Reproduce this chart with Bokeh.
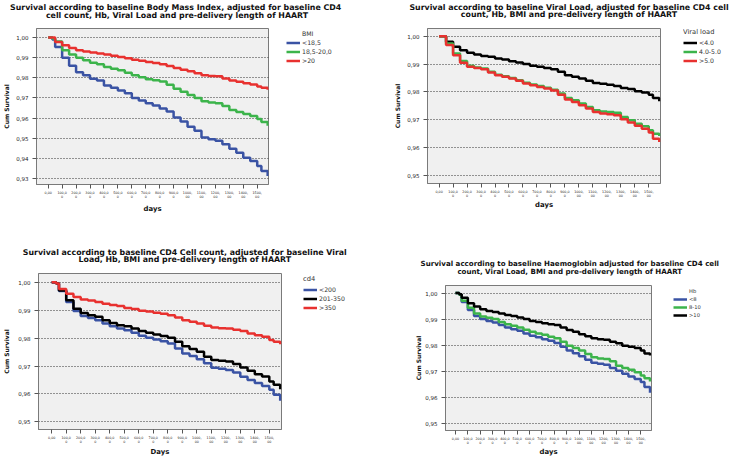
from bokeh.plotting import figure
from bokeh.layouts import column, row
from bokeh.models import Range1d, FixedTicker, Legend, LegendItem
from bokeh.core.properties import value
from bokeh.embed import file_html
from bokeh.resources import INLINE

# ---------------- data ----------------
DAYS = [0, 30, 50, 100, 150, 200, 250, 300, 350, 400, 450, 500, 550, 600, 650, 700,
        750, 800, 850, 900, 950, 1000, 1050, 1100, 1150, 1200, 1250, 1300, 1350, 1400,
        1450, 1500, 1530, 1575]

X_TICKS = [0, 100, 200, 300, 400, 500, 600, 700, 800, 900, 1000, 1100, 1200, 1300, 1400, 1500]
X_TICK_LABELS = ["0,00", "100,0\n0", "200,0\n0", "300,0\n0", "400,0\n0", "500,0\n0",
                 "600,0\n0", "700,0\n0", "800,0\n0", "900,0\n0", "1000,\n00", "1100,\n00",
                 "1200,\n00", "1300,\n00", "1400,\n00", "1500,\n00"]

Y_TICKS_BMI = [0.93, 0.94, 0.95, 0.96, 0.97, 0.98, 0.99, 1.0]
Y_TICK_LABELS_BMI = ["0,93", "0,94", "0,95", "0,96", "0,97", "0,98", "0,99", "1,00"]
Y_TICKS = [0.95, 0.96, 0.97, 0.98, 0.99, 1.0]
Y_TICK_LABELS = ["0,95", "0,96", "0,97", "0,98", "0,99", "1,00"]

# BMI panel
TITLE_BMI = ["Survival according to baseline Body Mass Index,  adjusted for baseline CD4",
             "cell count, Hb, Viral Load and pre-delivery length of HAART"]
BMI_LABELS = ["<18,5", "18,5-20,0", ">20"]
BMI_LT_18_5 = [1.0, 0.999, 0.9953, 0.990, 0.986, 0.9828, 0.9812, 0.9795, 0.9787, 0.9762,
               0.975, 0.9737, 0.9723, 0.970, 0.9687, 0.9673, 0.9662, 0.9648, 0.9632, 0.9603,
               0.9583, 0.9557, 0.9537, 0.9503, 0.9495, 0.9487, 0.947, 0.9448, 0.9428, 0.9403,
               0.9387, 0.9362, 0.9337, 0.9312]
BMI_18_5_20 = [1.0, 0.9995, 0.998, 0.9937, 0.9915, 0.990, 0.9887, 0.9875, 0.9867, 0.9853,
               0.9845, 0.9837, 0.9825, 0.9812, 0.9802, 0.9793, 0.9788, 0.9782, 0.9765, 0.9745,
               0.973, 0.9715, 0.970, 0.9683, 0.9677, 0.9673, 0.966, 0.964, 0.963, 0.962,
               0.961, 0.9595, 0.958, 0.9562]
BMI_GT_20 = [1.0, 1.0, 0.9978, 0.9962, 0.9948, 0.9937, 0.9931, 0.9925, 0.992, 0.9915,
             0.9909, 0.9903, 0.9897, 0.989, 0.9884, 0.9878, 0.9873, 0.9867, 0.9858, 0.9848,
             0.984, 0.9832, 0.9822, 0.9812, 0.9809, 0.9807, 0.9797, 0.9787, 0.978, 0.9773,
             0.9766, 0.9757, 0.975, 0.974]

# Viral load panel
TITLE_VL = ["Survival according to baseline Viral Load, adjusted for baseline CD4 cell",
            "count, Hb, BMI and pre-delivery length of HAART"]
VL_LABELS = ["<4.0", "4.0-5.0", ">5.0"]
VL_LT_4 = [1.0, 1.0, 0.998, 0.9962, 0.995, 0.9941, 0.9934, 0.9929, 0.9926, 0.992,
           0.9916, 0.991, 0.9906, 0.99, 0.9894, 0.989, 0.9886, 0.9881, 0.9872, 0.986,
           0.9854, 0.9848, 0.984, 0.9832, 0.9829, 0.9826, 0.9821, 0.9814, 0.981, 0.9802,
           0.9798, 0.979, 0.9778, 0.9766]
VL_4_5 = [1.0, 1.0, 0.9974, 0.9938, 0.9911, 0.9894, 0.9888, 0.9884, 0.9872, 0.9862,
          0.9856, 0.985, 0.9842, 0.9833, 0.9827, 0.9821, 0.9815, 0.9808, 0.9794, 0.9778,
          0.977, 0.9758, 0.9746, 0.9734, 0.973, 0.9728, 0.9725, 0.971, 0.9698, 0.9686,
          0.9677, 0.9662, 0.965, 0.9642]
VL_GT_5 = [1.0, 1.0, 0.9968, 0.9932, 0.9905, 0.989, 0.9886, 0.9881, 0.987, 0.986,
           0.9854, 0.9848, 0.984, 0.983, 0.9824, 0.9818, 0.9812, 0.9805, 0.979, 0.9773,
           0.9764, 0.9752, 0.974, 0.9728, 0.9722, 0.972, 0.9716, 0.9702, 0.969, 0.9678,
           0.9668, 0.9654, 0.9632, 0.962]

# CD4 panel
TITLE_CD4 = ["Survival according to baseline CD4 Cell count, adjusted for baseline Viral",
             "Load, Hb, BMI and pre-delivery length of HAART"]
CD4_LABELS = ["<200", "201-350", ">350"]
CD4_LT_200 = [1.0, 0.9995, 0.9968, 0.9929, 0.9897, 0.9879, 0.9872, 0.9864, 0.9852, 0.9842,
              0.9834, 0.9828, 0.9819, 0.9808, 0.9801, 0.9795, 0.9789, 0.9781, 0.9763, 0.9745,
              0.9736, 0.9724, 0.971, 0.9694, 0.969, 0.9686, 0.9677, 0.9662, 0.965, 0.9639,
              0.9629, 0.9615, 0.9597, 0.9576]
CD4_201_350 = [1.0, 0.9995, 0.997, 0.9935, 0.9905, 0.989, 0.9882, 0.9876, 0.9864, 0.9854,
               0.9846, 0.9842, 0.9834, 0.9825, 0.9819, 0.9813, 0.9807, 0.9801, 0.9787, 0.9771,
               0.9761, 0.9751, 0.9733, 0.9722, 0.9719, 0.9716, 0.9707, 0.9695, 0.9683, 0.9671,
               0.9663, 0.9645, 0.9633, 0.9617]
CD4_GT_350 = [1.0, 0.9995, 0.9976, 0.9959, 0.9947, 0.9938, 0.9934, 0.9929, 0.9923, 0.9918,
              0.9915, 0.9908, 0.9904, 0.9898, 0.9895, 0.9891, 0.9887, 0.9882, 0.9874, 0.9864,
              0.9858, 0.9852, 0.9844, 0.9838, 0.9835, 0.9834, 0.983, 0.9825, 0.9816, 0.981,
              0.9805, 0.9793, 0.9787, 0.9778]

# Haemoglobin panel
TITLE_HB = ["Survival according to baseline Haemoglobin adjusted for baseline CD4 cell",
            "count, Viral Load, BMI and pre-delivery length of HAART"]
HB_LABELS = ["<8", "8-10", ">10"]
HB_LT_8 = [1.0, 0.9993, 0.9966, 0.9935, 0.9912, 0.99, 0.9893, 0.9887, 0.9877, 0.9868,
           0.9861, 0.9855, 0.9845, 0.9836, 0.983, 0.9823, 0.9817, 0.9808, 0.9794, 0.9779,
           0.9769, 0.9757, 0.9744, 0.9732, 0.9728, 0.9725, 0.9712, 0.9702, 0.969, 0.9679,
           0.967, 0.9658, 0.9639, 0.9617]
HB_8_10 = [1.0, 0.9993, 0.997, 0.9944, 0.9921, 0.991, 0.9905, 0.99, 0.9889, 0.988,
           0.9874, 0.9868, 0.9859, 0.9851, 0.9845, 0.984, 0.9832, 0.9826, 0.9813, 0.9798,
           0.9789, 0.9779, 0.9766, 0.9753, 0.9749, 0.9747, 0.9738, 0.9721, 0.9712, 0.9705,
           0.9696, 0.9683, 0.9673, 0.966]
HB_GT_10 = [1.0, 0.9995, 0.9982, 0.9961, 0.9948, 0.9938, 0.9931, 0.9927, 0.9921, 0.9916,
            0.9912, 0.9906, 0.99, 0.9893, 0.9889, 0.9884, 0.988, 0.9877, 0.9868, 0.9858,
            0.9851, 0.9842, 0.9834, 0.9826, 0.9823, 0.9821, 0.9813, 0.9807, 0.9798, 0.9794,
            0.9789, 0.9779, 0.9768, 0.976]

# ---------------- styles / layout ----------------
BLUE = "#3a53a4"
GREEN = "#3cb44b"
RED = "#e8312f"
BLACK = "#000000"
FONT = "DejaVu Sans"
W = 366          # width of one panel column
ROW_H = 229      # height of one panel row

PANELS = [
    dict(title=TITLE_BMI, head_h=27, title_x=176.5, title_y=(6.7, 15.0), title_size="7.85px",
         chart_w=285, frame=(36, 268, 1, 157), xr=(-84, 1581), yr=(0.9270, 1.00447),
         yticks=Y_TICKS_BMI, ylabels=Y_TICK_LABELS_BMI,
         series=[BMI_LT_18_5, BMI_18_5_20, BMI_GT_20], labels=BMI_LABELS,
         colors=[BLUE, GREEN, RED],
         leg_title="BMI", leg_mode="item", leg_margin=1, leg_row=9, leg_size="6.2px",
         leg_title_standoff=0,
         ylab_standoff=3, xlab="days", xlab_standoff=3),
    dict(title=TITLE_VL, head_h=27, title_x=202.5, title_y=(6.7, 14.3), title_size="7.85px",
         chart_w=317, frame=(61, 294, 1, 156), xr=(-83, 1584), yr=(0.9471, 1.00277),
         yticks=Y_TICKS, ylabels=Y_TICK_LABELS,
         series=[VL_LT_4, VL_4_5, VL_GT_5], labels=VL_LABELS,
         colors=[BLACK, GREEN, RED],
         leg_title="Viral load", leg_mode="title", leg_margin=0, leg_row=9,
         leg_size="6.2px", leg_title_standoff=2,
         ylab_standoff=3, xlab="days", xlab_standoff=0),
    dict(title=TITLE_CD4, head_h=43, title_x=184.3, title_y=(22.7, 30.2), title_size="7.85px",
         chart_w=301, frame=(35, 281, 1, 158), xr=(-91, 1584), yr=(0.9473, 1.0031),
         yticks=Y_TICKS, ylabels=Y_TICK_LABELS,
         series=[CD4_LT_200, CD4_201_350, CD4_GT_350], labels=CD4_LABELS,
         colors=[BLUE, BLACK, RED],
         leg_title="cd4", leg_mode="title", leg_margin=2, leg_row=9, leg_size="6.2px",
         leg_title_standoff=2,
         ylab_standoff=5, xlab="Days", xlab_standoff=1),
    dict(title=TITLE_HB, head_h=55, title_x=203.3, title_y=(34.2, 41.9), title_size="7.1px",
         chart_w=305, frame=(79, 285, 1, 147), xr=(-81, 1587), yr=(0.9472, 1.0029),
         yticks=Y_TICKS, ylabels=Y_TICK_LABELS,
         series=[HB_LT_8, HB_8_10, HB_GT_10], labels=HB_LABELS,
         colors=[BLUE, GREEN, BLACK],
         leg_title="Hb", leg_mode="item", leg_margin=2, leg_row=8, leg_size="5.2px",
         leg_title_standoff=0,
         ylab_standoff=0, xlab="days", xlab_standoff=0),
]


def build_header(cfg):
    hh = cfg["head_h"]
    h = figure(width=W, height=hh, output_backend="svg", toolbar_location=None, title=None,
               x_range=Range1d(0, W), y_range=Range1d(hh, 0), min_border=0,
               x_axis_type=None, y_axis_type=None)
    h.outline_line_color = None
    h.background_fill_color = "white"
    h.border_fill_color = "white"
    h.text(x=[cfg["title_x"], cfg["title_x"]], y=list(cfg["title_y"]), text=cfg["title"],
           text_align="center", text_baseline="middle", text_font=value(FONT),
           text_font_size=value(cfg["title_size"]), text_font_style="bold",
           text_color="#111111")
    return h


def build_chart(cfg):
    l, r, t, b = cfg["frame"]
    Wc, H = cfg["chart_w"], ROW_H - cfg["head_h"]
    p = figure(width=Wc, height=H, output_backend="svg", toolbar_location=None, title=None,
               x_range=Range1d(*cfg["xr"]), y_range=Range1d(*cfg["yr"]),
               min_border_left=l, min_border_right=Wc - r, min_border_top=t,
               min_border_bottom=H - b)
    p.background_fill_color = "#f0f0f0"
    p.border_fill_color = "white"
    p.outline_line_color = "#7a7a7a"
    p.outline_line_width = 1

    p.xaxis.ticker = FixedTicker(ticks=X_TICKS)
    p.xaxis.major_label_overrides = dict(zip(X_TICKS, X_TICK_LABELS))
    p.xaxis.major_label_text_font_size = "3.3px"
    p.xaxis.major_label_text_line_height = 1.0
    p.xaxis.major_label_standoff = 2
    p.xaxis.axis_label = cfg["xlab"]
    p.xaxis.axis_label_standoff = cfg["xlab_standoff"]
    p.xaxis.axis_label_text_font_size = "6.9px"
    p.yaxis.ticker = FixedTicker(ticks=cfg["yticks"])
    p.yaxis.major_label_overrides = dict(zip(cfg["yticks"], cfg["ylabels"]))
    p.yaxis.major_label_text_font_size = "5.5px"
    p.yaxis.major_label_standoff = 4
    p.yaxis.axis_label = "Cum Survival"
    p.yaxis.axis_label_standoff = cfg["ylab_standoff"]
    p.yaxis.axis_label_text_font_size = "6px"
    for ax in (p.xaxis, p.yaxis):
        ax.major_label_text_font = FONT
        ax.major_label_text_color = "#222222"
        ax.axis_label_text_font = FONT
        ax.axis_label_text_font_style = "bold"
        ax.axis_label_text_color = "#111111"
        ax.axis_line_color = "#7a7a7a"
        ax.major_tick_line_color = "#555555"
        ax.major_tick_in = 0
        ax.major_tick_out = 4
        ax.minor_tick_line_color = None
    p.xgrid.visible = False
    p.ygrid.ticker = FixedTicker(ticks=cfg["yticks"])
    p.ygrid.grid_line_color = "#333333"
    p.ygrid.grid_line_dash = "1 2"
    p.ygrid.grid_line_width = 1

    for vals, col in zip(cfg["series"], cfg["colors"]):
        p.step(DAYS, vals, mode="after", line_color=col, line_width=2.5)
    return p


def build_legend(cfg):
    lw = W - cfg["chart_w"]
    H = ROW_H - cfg["head_h"]
    lf = figure(width=lw, height=H, output_backend="svg", toolbar_location=None, title=None,
                min_border=0, x_axis_type=None, y_axis_type=None)
    lf.outline_line_color = None
    lf.background_fill_color = "white"
    lf.border_fill_color = "white"
    rowh = cfg["leg_row"]
    items = []
    if cfg["leg_mode"] == "item":
        header = lf.line(x=DAYS[:1], y=cfg["series"][0][:1], line_alpha=0)
        items.append(LegendItem(label=cfg["leg_title"], renderers=[header]))
    for lab, col, vals in zip(cfg["labels"], cfg["colors"], cfg["series"]):
        # single-point key renderer: draws nothing itself, only supplies the legend swatch
        key = lf.line(x=DAYS[:1], y=vals[:1], line_color=col, line_width=2.5)
        items.append(LegendItem(label=lab, renderers=[key]))
    legend = Legend(items=items, location="top_left",
                    background_fill_alpha=0, border_line_color=None, padding=0,
                    margin=cfg["leg_margin"],
                    spacing=0, label_height=rowh, glyph_height=rowh, glyph_width=14,
                    label_standoff=2, label_text_font_size=cfg["leg_size"],
                    label_text_font=FONT, label_text_color="#333333",
                    title_text_font=FONT, title_text_font_size="6.7px",
                    title_text_font_style="normal", title_text_color="#333333",
                    title_standoff=cfg["leg_title_standoff"])
    if cfg["leg_mode"] == "title":
        legend.title = cfg["leg_title"]
    lf.add_layout(legend)
    return lf


cols = [column(build_header(c), row(build_chart(c), build_legend(c))) for c in PANELS]
layout = column(row(cols[0], cols[1]), row(cols[2], cols[3]))
open("out.html", "w").write(file_html(layout, INLINE))
